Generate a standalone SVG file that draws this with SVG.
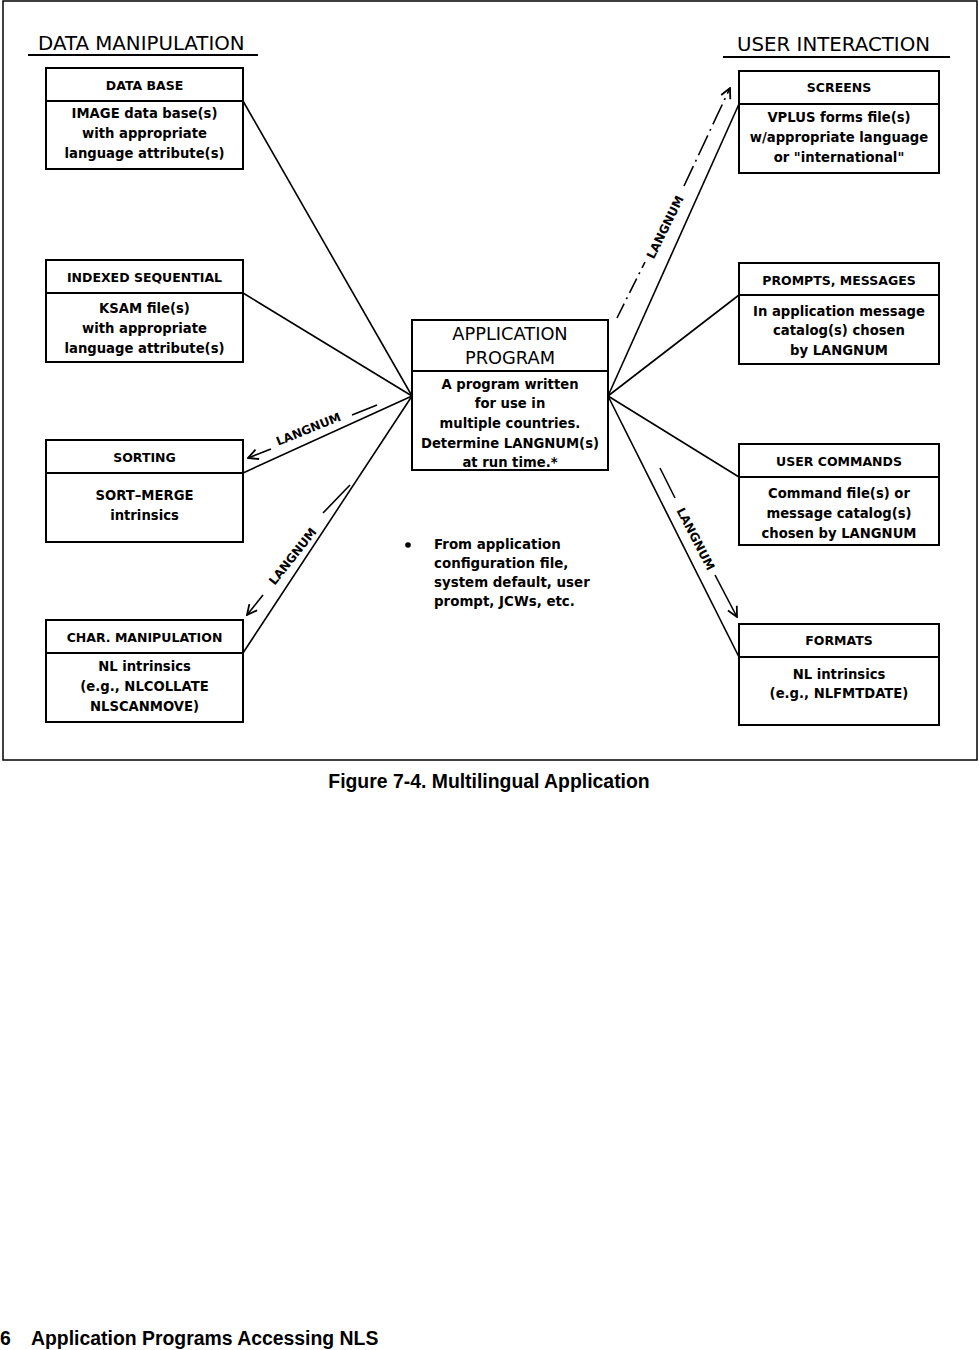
<svg xmlns="http://www.w3.org/2000/svg" width="979" height="1350" viewBox="0 0 979 1350">
<style>
.frame{fill:none;stroke:#000;stroke-width:1.5}
.box{fill:#fff;stroke:#000;stroke-width:2}
.div{stroke:#000;stroke-width:1.8}
.ln{fill:none;stroke:#000;stroke-width:1.6}
.tt{font-family:"DejaVu Sans",sans-serif;font-weight:bold;font-size:12.5px;text-anchor:middle;fill:#000}
.t{font-family:"DejaVu Sans",sans-serif;font-weight:bold;font-size:13.2px;text-anchor:middle;fill:#000}
.h{font-family:"DejaVu Sans",sans-serif;font-size:19.8px;fill:#000}
.ct{font-family:"DejaVu Sans",sans-serif;font-size:17.8px;text-anchor:middle;fill:#000}
.lab{font-family:"DejaVu Sans",sans-serif;font-weight:bold;font-size:12px;text-anchor:middle;fill:#000}
.fn{font-family:"DejaVu Sans",sans-serif;font-weight:bold;font-size:13.4px;fill:#000}
.cap{font-family:"Liberation Sans",Arial,sans-serif;font-weight:bold;font-size:19.4px;fill:#000}
</style>
<defs>
<marker id="ah" viewBox="0 0 12 12" refX="11" refY="6" markerWidth="12" markerHeight="12" markerUnits="userSpaceOnUse" orient="auto">
<path d="M1,1 L11,6 L1,11" fill="none" stroke="#000" stroke-width="1.8"/>
</marker>
</defs>
<rect class="frame" x="3" y="1" width="974" height="759"/>
<g id="header-data">
<text class="h" x="38" y="50">DATA MANIPULATION</text>
<line class="div" x1="28" y1="55" x2="258" y2="55"/>
</g>
<g id="header-user">
<text class="h" x="737" y="51">USER INTERACTION</text>
<line class="div" x1="723" y1="57" x2="950" y2="57"/>
</g>
<g id="connectors">
<line class="ln" x1="243" y1="101" x2="412" y2="396"/>
<line class="ln" x1="243" y1="293" x2="412" y2="396"/>
<line class="ln" x1="243" y1="473" x2="412" y2="396"/>
<line class="ln" x1="243" y1="653" x2="412" y2="396"/>
<line class="ln" x1="608" y1="396" x2="739" y2="104"/>
<line class="ln" x1="608" y1="396" x2="739" y2="295"/>
<line class="ln" x1="608" y1="396" x2="739" y2="477"/>
<line class="ln" x1="608" y1="396" x2="739" y2="657"/>
<line class="ln" x1="352" y1="415" x2="377" y2="405"/>
<line class="ln" x1="271" y1="449" x2="248" y2="458" marker-end="url(#ah)"/>
<text class="lab" transform="translate(310,433) rotate(-22)">LANGNUM</text>
<line class="ln" x1="323" y1="513" x2="350" y2="485"/>
<line class="ln" x1="263" y1="595" x2="247" y2="615" marker-end="url(#ah)"/>
<text class="lab" transform="translate(296,559) rotate(-51.6)">LANGNUM</text>
<line class="ln" x1="617" y1="318" x2="645" y2="262" stroke-dasharray="16,5,2,5"/>
<line class="ln" x1="684" y1="186" x2="730" y2="88" stroke-dasharray="22,5,2,5" marker-end="url(#ah)"/>
<text class="lab" transform="translate(669,229) rotate(-63.8)">LANGNUM</text>
<line class="ln" x1="660" y1="468" x2="675" y2="498"/>
<line class="ln" x1="715" y1="575" x2="737" y2="617" marker-end="url(#ah)"/>
<text class="lab" transform="translate(692,541) rotate(62.7)">LANGNUM</text>
</g>
<g id="database">
<rect class="box" x="46" y="68" width="197" height="101"/>
<line class="div" x1="46" y1="101" x2="243" y2="101"/>
<text class="tt" x="144.5" y="90">DATA BASE</text>
<text class="t" x="144.5" y="118">IMAGE data base(s)</text>
<text class="t" x="144.5" y="138">with appropriate</text>
<text class="t" x="144.5" y="158">language attribute(s)</text>
</g>
<g id="indexed">
<rect class="box" x="46" y="260" width="197" height="102"/>
<line class="div" x1="46" y1="293" x2="243" y2="293"/>
<text class="tt" x="144.5" y="282">INDEXED SEQUENTIAL</text>
<text class="t" x="144.5" y="313">KSAM file(s)</text>
<text class="t" x="144.5" y="333">with appropriate</text>
<text class="t" x="144.5" y="353">language attribute(s)</text>
</g>
<g id="sorting">
<rect class="box" x="46" y="440" width="197" height="102"/>
<line class="div" x1="46" y1="473" x2="243" y2="473"/>
<text class="tt" x="144.5" y="462">SORTING</text>
<text class="t" x="144.5" y="500">SORT–MERGE</text>
<text class="t" x="144.5" y="520">intrinsics</text>
</g>
<g id="charmanip">
<rect class="box" x="46" y="620" width="197" height="102"/>
<line class="div" x1="46" y1="653" x2="243" y2="653"/>
<text class="tt" x="144.5" y="642">CHAR. MANIPULATION</text>
<text class="t" x="144.5" y="671">NL intrinsics</text>
<text class="t" x="144.5" y="691">(e.g., NLCOLLATE</text>
<text class="t" x="144.5" y="711">NLSCANMOVE)</text>
</g>
<g id="application">
<rect class="box" x="412" y="320" width="196" height="150"/>
<line class="div" x1="412" y1="371" x2="608" y2="371"/>
<text class="ct" x="510" y="340">APPLICATION</text>
<text class="ct" x="510" y="364">PROGRAM</text>
<text class="t" x="510" y="389">A program written</text>
<text class="t" x="510" y="408">for use in</text>
<text class="t" x="510" y="428">multiple countries.</text>
<text class="t" x="510" y="448">Determine LANGNUM(s)</text>
<text class="t" x="510" y="467">at run time.*</text>
</g>
<g id="screens">
<rect class="box" x="739" y="71" width="200" height="102"/>
<line class="div" x1="739" y1="104" x2="939" y2="104"/>
<text class="tt" x="839" y="92">SCREENS</text>
<text class="t" x="839" y="122">VPLUS forms file(s)</text>
<text class="t" x="839" y="142">w/appropriate language</text>
<text class="t" x="839" y="162">or "international"</text>
</g>
<g id="prompts">
<rect class="box" x="739" y="263" width="200" height="101"/>
<line class="div" x1="739" y1="295" x2="939" y2="295"/>
<text class="tt" x="839" y="285">PROMPTS, MESSAGES</text>
<text class="t" x="839" y="316">In application message</text>
<text class="t" x="839" y="335">catalog(s) chosen</text>
<text class="t" x="839" y="355">by LANGNUM</text>
</g>
<g id="usercommands">
<rect class="box" x="739" y="444" width="200" height="101"/>
<line class="div" x1="739" y1="477" x2="939" y2="477"/>
<text class="tt" x="839" y="466">USER COMMANDS</text>
<text class="t" x="839" y="498">Command file(s) or</text>
<text class="t" x="839" y="518">message catalog(s)</text>
<text class="t" x="839" y="538">chosen by LANGNUM</text>
</g>
<g id="formats">
<rect class="box" x="739" y="624" width="200" height="101"/>
<line class="div" x1="739" y1="657" x2="939" y2="657"/>
<text class="tt" x="839" y="645">FORMATS</text>
<text class="t" x="839" y="679">NL intrinsics</text>
<text class="t" x="839" y="698">(e.g., NLFMTDATE)</text>
</g>
<g id="footnote">
<circle cx="408" cy="545" r="2.8" fill="#000"/>
<text class="fn" x="434" y="549">From application</text>
<text class="fn" x="434" y="568">configuration file,</text>
<text class="fn" x="434" y="587">system default, user</text>
<text class="fn" x="434" y="606">prompt, JCWs, etc.</text>
</g>
<text class="cap" x="489" y="788" text-anchor="middle">Figure 7-4. Multilingual Application</text>
<text class="cap" x="0" y="1345">6</text>
<text class="cap" x="31" y="1345">Application Programs Accessing NLS</text>
</svg>
